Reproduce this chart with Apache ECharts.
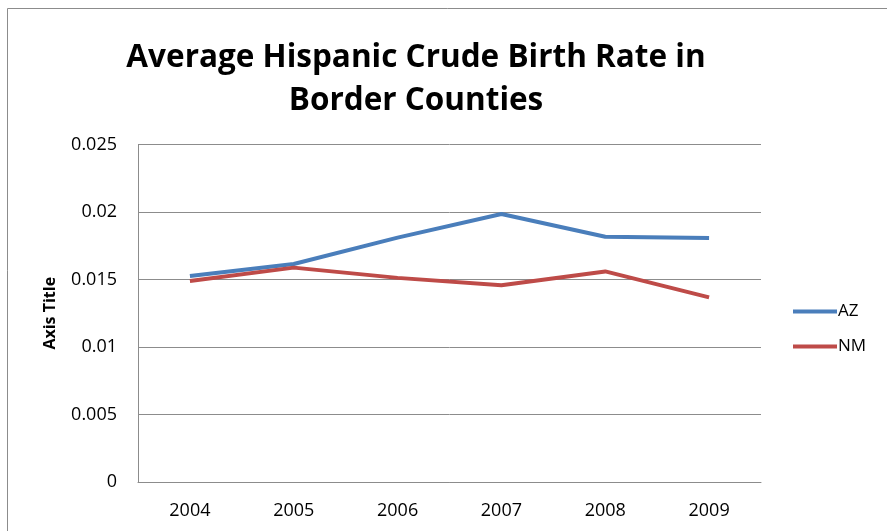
<!DOCTYPE html>
<html><head><meta charset="utf-8">
<script src="https://cdn.jsdelivr.net/npm/echarts@6/dist/echarts.min.js"></script>
<style>html,body{margin:0;padding:0;background:#fff}#c{width:887px;height:531px}</style>
</head><body><div id="c"></div>
<script>
const categories = ['2004','2005','2006','2007','2008','2009'];
const azValues = [0.01526, 0.01615, 0.01810, 0.01985, 0.01817, 0.01807];
const nmValues = [0.01489, 0.01588, 0.01512, 0.01457, 0.01560, 0.01368];
const yTicks = [0, 0.005, 0.01, 0.015, 0.02, 0.025];
const FONT = '"Open Sans", sans-serif';
const chart = echarts.init(document.getElementById('c'), null, {renderer:'canvas'});
chart.setOption({
  animation:false,
  backgroundColor:'#fff',
  graphic:[{type:'rect', shape:{x:7.5,y:8.5,width:900,height:600}, style:{fill:'none', stroke:'#8c8c8c', lineWidth:1}, silent:true}],
  title:{
    text:'Average Hispanic Crude Birth Rate in\nBorder Counties',
    left:411, top:32, textAlign:'center',
    textStyle:{fontFamily:FONT, fontWeight:'bold', fontSize:31.5, lineHeight:43, color:'#000'}
  },
  grid:{left:138, right:126, top:144.5, bottom:49, containLabel:false},
  legend:{
    orient:'vertical', left:788, top:298, itemGap:18, itemWidth:44, itemHeight:4,
    icon:'rect',
    textStyle:{fontFamily:FONT, fontSize:17, color:'#000', padding:[0,0,0,-4]},
    data:['AZ','NM']
  },
  xAxis:{
    type:'category', data:categories, boundaryGap:true,
    axisLine:{lineStyle:{color:'#8c8c8c', width:1}}, axisTick:{show:false},
    axisLabel:{fontFamily:FONT, fontSize:18, color:'#000', margin:20}
  },
  yAxis:{
    type:'value', min:yTicks[0], max:yTicks[yTicks.length-1], interval:0.005,
    name:'Axis Title', nameLocation:'middle', nameGap:80, nameRotate:90,
    nameTextStyle:{fontFamily:FONT, fontWeight:'bold', fontSize:16, color:'#000'},
    axisLine:{show:true, lineStyle:{color:'#8c8c8c'}}, axisTick:{show:false},
    splitLine:{lineStyle:{color:'#8c8c8c', width:1}},
    axisLabel:{fontFamily:FONT, fontSize:18, color:'#000', margin:21,
      formatter:v=>String(+v.toFixed(3))}
  },
  series:[
    {name:'AZ', type:'line', data:azValues, symbol:'none', lineStyle:{color:'#4a7ebb', width:4}, itemStyle:{color:'#4a7ebb'}},
    {name:'NM', type:'line', data:nmValues, symbol:'none', lineStyle:{color:'#be4b48', width:4}, itemStyle:{color:'#be4b48'}}
  ]
});
</script></body></html>
